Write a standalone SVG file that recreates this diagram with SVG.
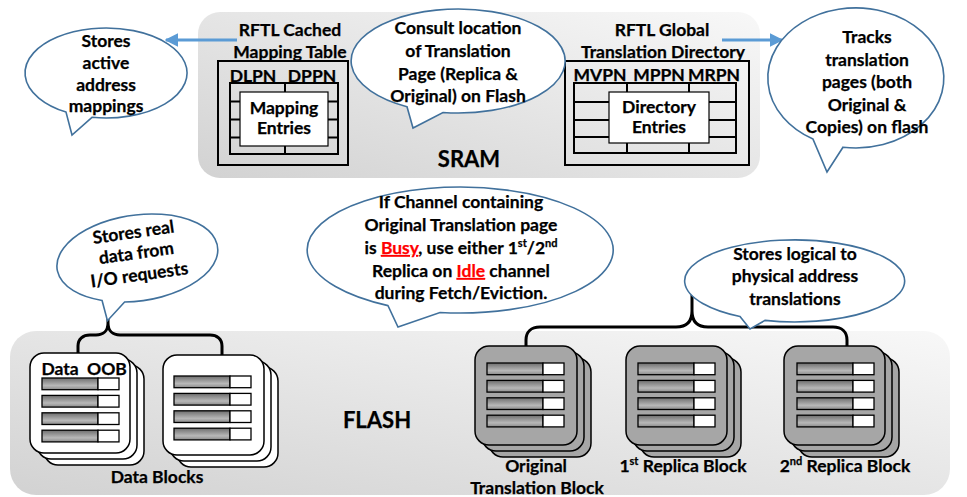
<svg xmlns="http://www.w3.org/2000/svg" xmlns:xlink="http://www.w3.org/1999/xlink" width="967" height="497" viewBox="0 0 967 497">
  <style>
    .t { font-family: Lato, "Liberation Sans", sans-serif; font-weight: bold; font-size: 17.5px; fill: #000; text-anchor: middle; stroke: #000; stroke-width: 0.25; }
    .big { font-size: 22px; }
    .red { fill: #ff0000; stroke: #ff0000; text-decoration: underline; }
    .bubble { fill: #fff; stroke: #41719c; stroke-width: 1.6; stroke-linejoin: miter; }
    .tbl { fill: none; stroke: #000; stroke-width: 2; }
    .entry { fill: #fff; stroke: #000; stroke-width: 1.2; }
    .arrow { fill: none; stroke: #5b9bd5; stroke-width: 3; }
    .brace { fill: none; stroke: #000; stroke-width: 3; stroke-linecap: round; }
    .blk-w { fill: #fff; stroke: #000; stroke-width: 1.5; }
    .blk-g { fill: #a6a6a6; stroke: #000; stroke-width: 1.5; }
    .bar { fill: url(#barGrad); stroke: #000; stroke-width: 1.3; }
    .oob { fill: #fff; stroke: #000; stroke-width: 1.3; }
  </style>
  <defs>
    <linearGradient id="panelGrad" x1="1" y1="0" x2="0" y2="1">
      <stop offset="0" stop-color="#f8f8f8"/>
      <stop offset="1" stop-color="#d2d2d2"/>
    </linearGradient>
    <linearGradient id="barGrad" x1="0" y1="0" x2="0" y2="1">
      <stop offset="0" stop-color="#6e6e6e"/>
      <stop offset="0.65" stop-color="#b8b8b8"/>
      <stop offset="1" stop-color="#8a8a8a"/>
    </linearGradient>
    <marker id="head" viewBox="0 0 10 10" refX="9" refY="5" markerWidth="4.5" markerHeight="4.5" orient="auto">
      <path d="M0 0 L10 5 L0 10 Z" fill="#5b9bd5"/>
    </marker>
    <!-- four page rows: data part + out-of-band part -->
    <g id="rows">
      <rect class="bar" x="0" y="0" width="56" height="11.7"/><rect class="oob" x="56" y="0" width="21" height="11.7"/>
      <rect class="bar" x="0" y="17.4" width="56" height="11.7"/><rect class="oob" x="56" y="17.4" width="21" height="11.7"/>
      <rect class="bar" x="0" y="34.8" width="56" height="11.7"/><rect class="oob" x="56" y="34.8" width="21" height="11.7"/>
      <rect class="bar" x="0" y="52.2" width="56" height="11.7"/><rect class="oob" x="56" y="52.2" width="21" height="11.7"/>
    </g>
  </defs>

  <!-- SRAM region -->
  <g id="sram-panel">
    <rect x="198" y="12" width="562" height="166" rx="22" fill="url(#panelGrad)"/>
    <text class="t big" x="469" y="167">SRAM</text>
  </g>

  <!-- FLASH region -->
  <g id="flash-panel">
    <rect x="10" y="331" width="940" height="164" rx="26" fill="url(#panelGrad)"/>
    <text class="t big" x="377" y="428">FLASH</text>
  </g>

  <g id="cached-mapping-table">
    <text class="t" x="290" y="36">RFTL Cached</text>
    <text class="t" x="290" y="58">Mapping Table</text>
    <rect class="tbl" x="218" y="61" width="130" height="104"/>
    <rect class="tbl" x="230" y="83" width="108" height="71"/>
    <line class="tbl" x1="285" y1="83" x2="285" y2="154"/>
    <line class="tbl" x1="230" y1="101.5" x2="338" y2="101.5"/>
    <line class="tbl" x1="230" y1="119.5" x2="338" y2="119.5"/>
    <line class="tbl" x1="230" y1="137.5" x2="338" y2="137.5"/>
    <text class="t" x="253" y="82">DLPN</text>
    <text class="t" x="312" y="82">DPPN</text>
    <rect class="entry" x="240" y="92" width="88" height="54"/>
    <text class="t" x="284" y="114">Mapping</text>
    <text class="t" x="284" y="134">Entries</text>
  </g>

  <g id="global-translation-directory">
    <text class="t" x="662" y="36">RFTL Global</text>
    <text class="t" x="663" y="58">Translation Directory</text>
    <rect class="tbl" x="565" y="61" width="184" height="104"/>
    <rect class="tbl" x="574" y="83" width="162" height="70"/>
    <line class="tbl" x1="627" y1="83" x2="627" y2="153"/>
    <line class="tbl" x1="689" y1="83" x2="689" y2="153"/>
    <line class="tbl" x1="574" y1="102" x2="736" y2="102"/>
    <line class="tbl" x1="574" y1="120" x2="736" y2="120"/>
    <line class="tbl" x1="574" y1="137" x2="736" y2="137"/>
    <text class="t" x="600" y="81">MVPN</text>
    <text class="t" x="659" y="81">MPPN</text>
    <text class="t" x="714" y="81">MRPN</text>
    <rect class="entry" x="609" y="92" width="100" height="51"/>
    <text class="t" x="659" y="113">Directory</text>
    <text class="t" x="659" y="133">Entries</text>
  </g>

  <!-- connectors: arrows and braces -->
  <g id="connectors">
    <line class="arrow" x1="237" y1="40" x2="166" y2="40" marker-end="url(#head)"/>
    <line class="arrow" x1="722" y1="40" x2="782" y2="40" marker-end="url(#head)"/>
    <path class="brace" d="M108 312 L108 323 C108 331 103 335 96 335 L90 335 C83 335 78 339 78 346 L78 353 M108 323 C108 331 113 335 120 335 L210 335 C217 335 222 339 222 346 L222 355"/>
    <path class="brace" d="M692 295 L692 311 C692 322 686 327 676 327 L540 327 C531 327 526 332 526 340 L526 346 M692 311 C692 322 698 327 708 327 L833 327 C842 327 847 332 847 340 L847 346"/>
  </g>

  <g id="bubble-active-mappings">
    <path class="bubble" d="M92 117.3 A81 45 0 1 0 66 112.1 L72 135 Z"/>
    <text class="t" x="106" y="47">Stores</text>
    <text class="t" x="106" y="69">active</text>
    <text class="t" x="106" y="91">address</text>
    <text class="t" x="106" y="112">mappings</text>
  </g>

  <g id="bubble-consult">
    <path class="bubble" d="M443 112.5 A107 52 0 1 0 407 106.7 L413 128 Z"/>
    <text class="t" x="458" y="34">Consult location</text>
    <text class="t" x="458" y="57">of Translation</text>
    <text class="t" x="458" y="80">Page (Replica &amp;</text>
    <text class="t" x="458" y="102">Original) on Flash</text>
  </g>

  <g id="bubble-tracks">
    <path class="bubble" d="M843 147.2 A88 70 0 1 0 813 139.1 L827 172 Z"/>
    <text class="t" x="867" y="43">Tracks</text>
    <text class="t" x="867" y="66">translation</text>
    <text class="t" x="867" y="88">pages (both</text>
    <text class="t" x="867" y="111">Original &amp;</text>
    <text class="t" x="867" y="133">Copies) on flash</text>
  </g>

  <g id="bubble-real-data" transform="rotate(-8 137 258)">
    <path class="bubble" d="M118.6 299.9 A81 43 0 1 0 96.5 295.2 L99 316 Z"/>
    <text class="t" x="137" y="238">Stores real</text>
    <text class="t" x="137" y="259">data from</text>
    <text class="t" x="137" y="281">I/O requests</text>
  </g>

  <g id="bubble-channel">
    <path class="bubble" d="M440 312.5 A153 63 0 1 0 388 305.6 L398 327 Z"/>
    <text class="t" x="461" y="208">If Channel containing</text>
    <text class="t" x="461" y="231">Original Translation page</text>
    <text class="t" x="461" y="254">is <tspan class="red">Busy</tspan>, use either 1<tspan font-size="11" dy="-7">st</tspan><tspan dy="7">/2</tspan><tspan font-size="11" dy="-7">nd</tspan></text>
    <text class="t" x="461" y="277">Replica on <tspan class="red">Idle</tspan> channel</text>
    <text class="t" x="461" y="299">during Fetch/Eviction.</text>
  </g>

  <g id="bubble-logical">
    <path class="bubble" d="M765 320.4 A110 41 0 1 0 740 316.5 L750 329 Z"/>
    <text class="t" x="795" y="260">Stores logical to</text>
    <text class="t" x="795" y="282">physical address</text>
    <text class="t" x="795" y="305">translations</text>
  </g>

  <g id="data-block-1">
    <rect class="blk-w" x="44" y="365" width="100" height="100" rx="14"/>
    <rect class="blk-w" x="37" y="359" width="100" height="100" rx="14"/>
    <rect class="blk-w" x="30" y="353" width="100" height="100" rx="14"/>
    <text class="t" x="60" y="375">Data</text>
    <text class="t" x="107" y="375">OOB</text>
    <use xlink:href="#rows" x="42" y="378"/>
  </g>

  <g id="data-block-2">
    <rect class="blk-w" x="177" y="367" width="101" height="100" rx="14"/>
    <rect class="blk-w" x="170" y="361" width="101" height="100" rx="14"/>
    <rect class="blk-w" x="163" y="355" width="101" height="100" rx="14"/>
    <use xlink:href="#rows" x="174" y="376"/>
  </g>
  <text class="t" x="157" y="483">Data Blocks</text>

  <g id="original-translation-block">
    <rect class="blk-g" x="489" y="358" width="102" height="99" rx="14"/>
    <rect class="blk-g" x="482" y="352" width="102" height="99" rx="14"/>
    <rect class="blk-g" x="475" y="346" width="102" height="99" rx="14"/>
    <use xlink:href="#rows" x="487" y="363"/>
    <text class="t" x="536" y="472">Original</text>
    <text class="t" x="537" y="494">Translation Block</text>
  </g>

  <g id="replica-block-1">
    <rect class="blk-g" x="640" y="358" width="101" height="99" rx="14"/>
    <rect class="blk-g" x="633" y="352" width="101" height="99" rx="14"/>
    <rect class="blk-g" x="626" y="346" width="101" height="99" rx="14"/>
    <use xlink:href="#rows" x="638" y="363"/>
    <text class="t" x="683" y="472">1<tspan font-size="11" dy="-7">st</tspan><tspan dy="7"> Replica Block</tspan></text>
  </g>

  <g id="replica-block-2">
    <rect class="blk-g" x="798" y="358" width="101" height="99" rx="14"/>
    <rect class="blk-g" x="791" y="352" width="101" height="99" rx="14"/>
    <rect class="blk-g" x="784" y="346" width="101" height="99" rx="14"/>
    <use xlink:href="#rows" x="797" y="363"/>
    <text class="t" x="845" y="472">2<tspan font-size="11" dy="-7">nd</tspan><tspan dy="7"> Replica Block</tspan></text>
  </g>
</svg>
